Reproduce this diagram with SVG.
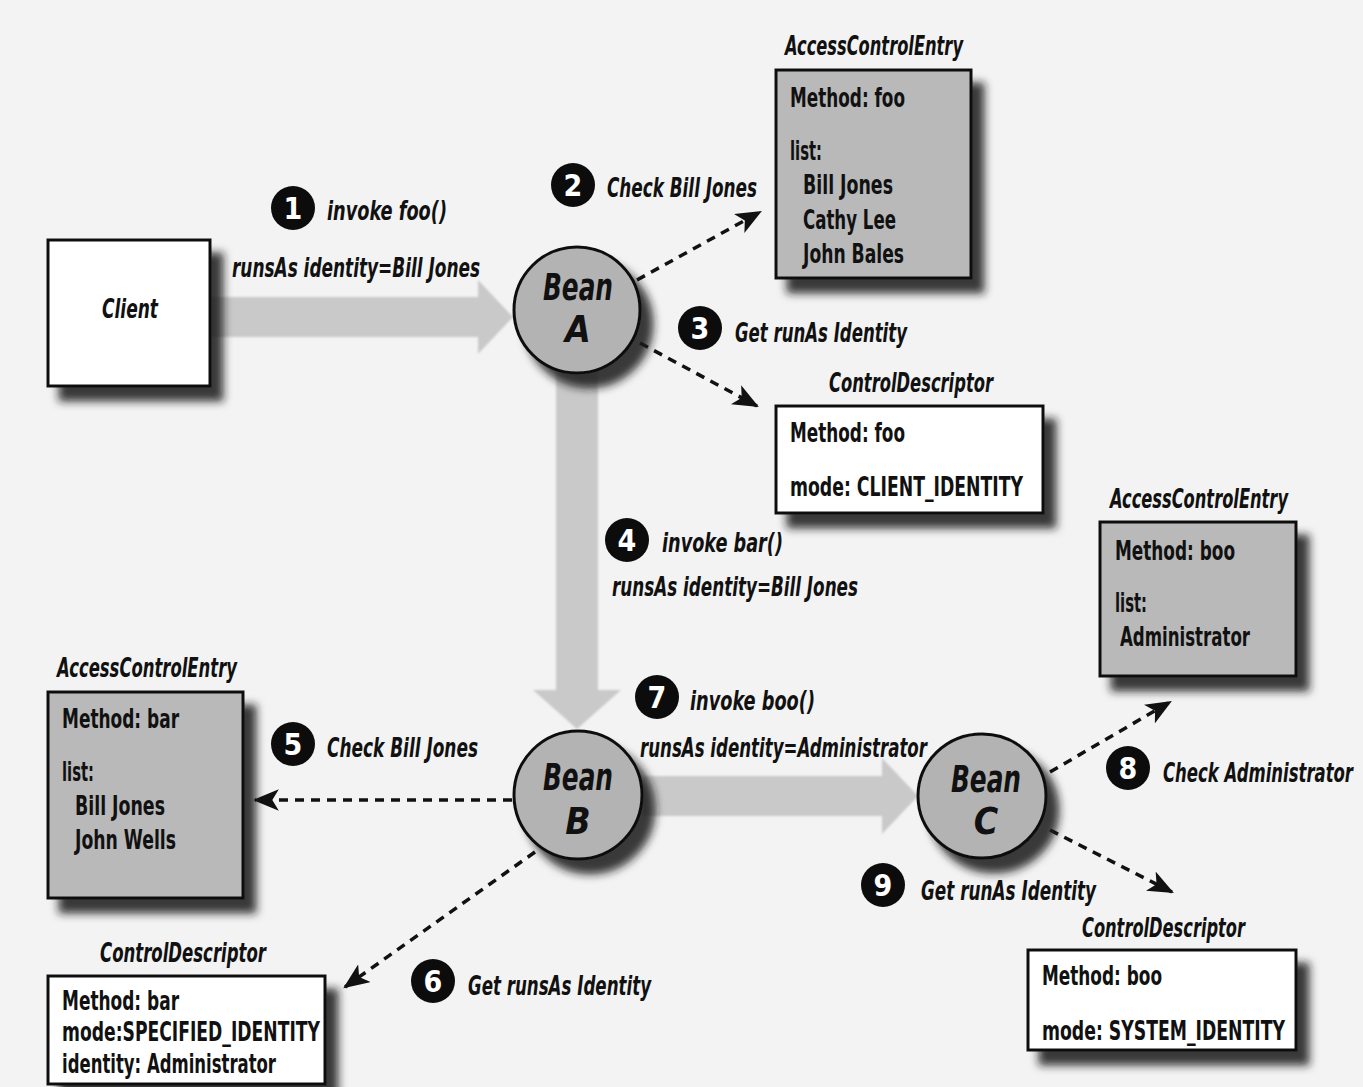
<svg xmlns="http://www.w3.org/2000/svg" width="1363" height="1087" viewBox="0 0 1363 1087">
  <style>
    text { font-family: "Liberation Sans Narrow", "DejaVu Sans Condensed", "Liberation Sans", sans-serif; fill: #111; font-weight: bold; }
    .lbl { font-size: 27px; font-style: italic; }
    .ttl { font-size: 26px; font-style: italic; }
    .body { font-size: 27px; }
    .bean { font-size: 37px; font-style: italic; font-weight: 900; text-anchor: middle; }
    .num { font-size: 30px; fill: #fff; text-anchor: middle; }
    .badge { fill: #0c0c0c; }
    .grayBox { fill: #b9b9b9; stroke: #111; stroke-width: 3; }
    .whiteBox { fill: #ffffff; stroke: #111; stroke-width: 3; }
    .beanCircle { fill: #b3b3b3; stroke: #111; stroke-width: 3; }
    .flow { fill: #c9c9c9; }
    .dash { fill: none; stroke: #111; stroke-width: 3.5; stroke-dasharray: 9 7; }
  </style>
  <defs>
    <filter id="shadow" x="-20%" y="-20%" width="150%" height="150%">
      <feGaussianBlur in="SourceAlpha" stdDeviation="4"/>
      <feOffset dx="12" dy="14" result="off"/>
      <feFlood flood-color="#1a1a1a" flood-opacity="0.85"/>
      <feComposite in2="off" operator="in"/>
      <feMerge>
        <feMergeNode/>
        <feMergeNode in="SourceGraphic"/>
      </feMerge>
    </filter>
    <filter id="soft" x="-10%" y="-10%" width="120%" height="120%">
      <feGaussianBlur stdDeviation="1.2"/>
    </filter>
    <marker id="arrowHead" viewBox="0 0 12 10" refX="11" refY="5" markerWidth="26" markerHeight="22" markerUnits="userSpaceOnUse" orient="auto">
      <path d="M0,0 L12,5 L0,10 L3,5 z" fill="#111"/>
    </marker>
  </defs>

  <!-- page -->
  <rect x="0" y="0" width="1363" height="1087" fill="#f3f3f3"/>

  <!-- call-flow arrows and dashed lookups -->
  <g id="connectors">
    <!-- 1: client to bean A -->
    <polygon class="flow" filter="url(#soft)" points="210,297 478,297 478,280 513,317 478,354 478,337 210,337"/>
    <!-- 4: bean A to bean B -->
    <polygon class="flow" filter="url(#soft)" points="556,372 598,372 598,690 621,690 577,729 533,690 556,690"/>
    <!-- 7: bean B to bean C -->
    <polygon class="flow" filter="url(#soft)" points="643,776 882,776 882,758 918,796 882,834 882,816 643,816"/>

    <line class="dash" x1="637" y1="280" x2="760" y2="212" marker-end="url(#arrowHead)"/>
    <line class="dash" x1="640" y1="343" x2="757" y2="406" marker-end="url(#arrowHead)"/>
    <line class="dash" x1="512" y1="800" x2="255" y2="800" marker-end="url(#arrowHead)"/>
    <line class="dash" x1="535" y1="852" x2="345" y2="987" marker-end="url(#arrowHead)"/>
    <line class="dash" x1="1050" y1="772" x2="1170" y2="702" marker-end="url(#arrowHead)"/>
    <line class="dash" x1="1050" y1="830" x2="1172" y2="892" marker-end="url(#arrowHead)"/>
  </g>

  <!-- step labels -->
  <g id="step1">
    <circle class="badge" cx="293" cy="208" r="22"/>
    <text class="num" x="293" y="219">1</text>
    <text class="lbl" x="327" y="220" textLength="120" lengthAdjust="spacingAndGlyphs">invoke foo()</text>
    <text class="lbl" x="232" y="277" textLength="248" lengthAdjust="spacingAndGlyphs">runsAs identity=Bill Jones</text>
  </g>
  <g id="step2">
    <circle class="badge" cx="573" cy="185" r="22"/>
    <text class="num" x="573" y="196">2</text>
    <text class="lbl" x="607" y="197" textLength="150" lengthAdjust="spacingAndGlyphs">Check Bill Jones</text>
  </g>
  <g id="step3">
    <circle class="badge" cx="700" cy="328" r="22"/>
    <text class="num" x="700" y="339">3</text>
    <text class="lbl" x="735" y="342" textLength="172" lengthAdjust="spacingAndGlyphs">Get runAs Identity</text>
  </g>
  <g id="step4">
    <circle class="badge" cx="627" cy="540" r="22"/>
    <text class="num" x="627" y="551">4</text>
    <text class="lbl" x="662" y="552" textLength="121" lengthAdjust="spacingAndGlyphs">invoke bar()</text>
    <text class="lbl" x="612" y="596" textLength="246" lengthAdjust="spacingAndGlyphs">runsAs identity=Bill Jones</text>
  </g>
  <g id="step5">
    <circle class="badge" cx="293" cy="744" r="22"/>
    <text class="num" x="293" y="755">5</text>
    <text class="lbl" x="327" y="757" textLength="151" lengthAdjust="spacingAndGlyphs">Check Bill Jones</text>
  </g>
  <g id="step6">
    <circle class="badge" cx="433" cy="981" r="22"/>
    <text class="num" x="433" y="992">6</text>
    <text class="lbl" x="468" y="995" textLength="183" lengthAdjust="spacingAndGlyphs">Get runsAs Identity</text>
  </g>
  <g id="step7">
    <circle class="badge" cx="657" cy="697" r="22"/>
    <text class="num" x="657" y="708">7</text>
    <text class="lbl" x="690" y="710" textLength="125" lengthAdjust="spacingAndGlyphs">invoke boo()</text>
    <text class="lbl" x="640" y="757" textLength="287" lengthAdjust="spacingAndGlyphs">runsAs identity=Administrator</text>
  </g>
  <g id="step8">
    <circle class="badge" cx="1128" cy="768" r="22"/>
    <text class="num" x="1128" y="779">8</text>
    <text class="lbl" x="1163" y="782" textLength="190" lengthAdjust="spacingAndGlyphs">Check Administrator</text>
  </g>
  <g id="step9">
    <circle class="badge" cx="883" cy="885" r="22"/>
    <text class="num" x="883" y="896">9</text>
    <text class="lbl" x="921" y="900" textLength="175" lengthAdjust="spacingAndGlyphs">Get runAs Identity</text>
  </g>

  <!-- client -->
  <g id="client">
    <rect class="whiteBox" x="48" y="240" width="162" height="146" filter="url(#shadow)"/>
    <text class="lbl" x="130" y="318" text-anchor="middle" textLength="56" lengthAdjust="spacingAndGlyphs">Client</text>
  </g>

  <!-- beans -->
  <g id="beanA">
    <circle class="beanCircle" cx="577" cy="310" r="63" filter="url(#shadow)"/>
    <text class="bean" x="578" y="300" textLength="70" lengthAdjust="spacingAndGlyphs">Bean</text>
    <text class="bean" x="578" y="342">A</text>
  </g>
  <g id="beanB">
    <circle class="beanCircle" cx="578" cy="795" r="64" filter="url(#shadow)"/>
    <text class="bean" x="578" y="790" textLength="70" lengthAdjust="spacingAndGlyphs">Bean</text>
    <text class="bean" x="578" y="834">B</text>
  </g>
  <g id="beanC">
    <ellipse class="beanCircle" cx="982" cy="796" rx="64" ry="62" filter="url(#shadow)"/>
    <text class="bean" x="986" y="792" textLength="70" lengthAdjust="spacingAndGlyphs">Bean</text>
    <text class="bean" x="986" y="834">C</text>
  </g>

  <!-- bean A descriptors -->
  <g id="aceFoo">
    <text class="ttl" x="785" y="55" textLength="178" lengthAdjust="spacingAndGlyphs">AccessControlEntry</text>
    <rect class="grayBox" x="776" y="70" width="195" height="208" filter="url(#shadow)"/>
    <text class="body" x="790" y="107" textLength="115" lengthAdjust="spacingAndGlyphs">Method: foo</text>
    <text class="body" x="790" y="160" textLength="32" lengthAdjust="spacingAndGlyphs">list:</text>
    <text class="body" x="803" y="194" textLength="90" lengthAdjust="spacingAndGlyphs">Bill Jones</text>
    <text class="body" x="803" y="229" textLength="93" lengthAdjust="spacingAndGlyphs">Cathy Lee</text>
    <text class="body" x="803" y="263" textLength="101" lengthAdjust="spacingAndGlyphs">John Bales</text>
  </g>
  <g id="cdFoo">
    <text class="ttl" x="829" y="392" textLength="164" lengthAdjust="spacingAndGlyphs">ControlDescriptor</text>
    <rect class="whiteBox" x="776" y="406" width="267" height="107" filter="url(#shadow)"/>
    <text class="body" x="790" y="442" textLength="115" lengthAdjust="spacingAndGlyphs">Method: foo</text>
    <text class="body" x="790" y="496" textLength="233" lengthAdjust="spacingAndGlyphs">mode: CLIENT_IDENTITY</text>
  </g>

  <!-- bean B descriptors -->
  <g id="aceBar">
    <text class="ttl" x="57" y="677" textLength="180" lengthAdjust="spacingAndGlyphs">AccessControlEntry</text>
    <rect class="grayBox" x="48" y="692" width="195" height="206" filter="url(#shadow)"/>
    <text class="body" x="62" y="728" textLength="117" lengthAdjust="spacingAndGlyphs">Method: bar</text>
    <text class="body" x="62" y="781" textLength="32" lengthAdjust="spacingAndGlyphs">list:</text>
    <text class="body" x="75" y="815" textLength="90" lengthAdjust="spacingAndGlyphs">Bill Jones</text>
    <text class="body" x="75" y="849" textLength="101" lengthAdjust="spacingAndGlyphs">John Wells</text>
  </g>
  <g id="cdBar">
    <text class="ttl" x="100" y="962" textLength="166" lengthAdjust="spacingAndGlyphs">ControlDescriptor</text>
    <rect class="whiteBox" x="48" y="976" width="277" height="108" filter="url(#shadow)"/>
    <text class="body" x="62" y="1010" textLength="117" lengthAdjust="spacingAndGlyphs">Method: bar</text>
    <text class="body" x="62" y="1041" textLength="258" lengthAdjust="spacingAndGlyphs">mode:SPECIFIED_IDENTITY</text>
    <text class="body" x="62" y="1073" textLength="214" lengthAdjust="spacingAndGlyphs">identity: Administrator</text>
  </g>

  <!-- bean C descriptors -->
  <g id="aceBoo">
    <text class="ttl" x="1110" y="508" textLength="178" lengthAdjust="spacingAndGlyphs">AccessControlEntry</text>
    <rect class="grayBox" x="1100" y="522" width="196" height="154" filter="url(#shadow)"/>
    <text class="body" x="1115" y="560" textLength="120" lengthAdjust="spacingAndGlyphs">Method: boo</text>
    <text class="body" x="1115" y="612" textLength="32" lengthAdjust="spacingAndGlyphs">list:</text>
    <text class="body" x="1120" y="646" textLength="130" lengthAdjust="spacingAndGlyphs">Administrator</text>
  </g>
  <g id="cdBoo">
    <text class="ttl" x="1082" y="937" textLength="163" lengthAdjust="spacingAndGlyphs">ControlDescriptor</text>
    <rect class="whiteBox" x="1028" y="950" width="268" height="100" filter="url(#shadow)"/>
    <text class="body" x="1042" y="985" textLength="120" lengthAdjust="spacingAndGlyphs">Method: boo</text>
    <text class="body" x="1042" y="1040" textLength="243" lengthAdjust="spacingAndGlyphs">mode: SYSTEM_IDENTITY</text>
  </g>
</svg>
